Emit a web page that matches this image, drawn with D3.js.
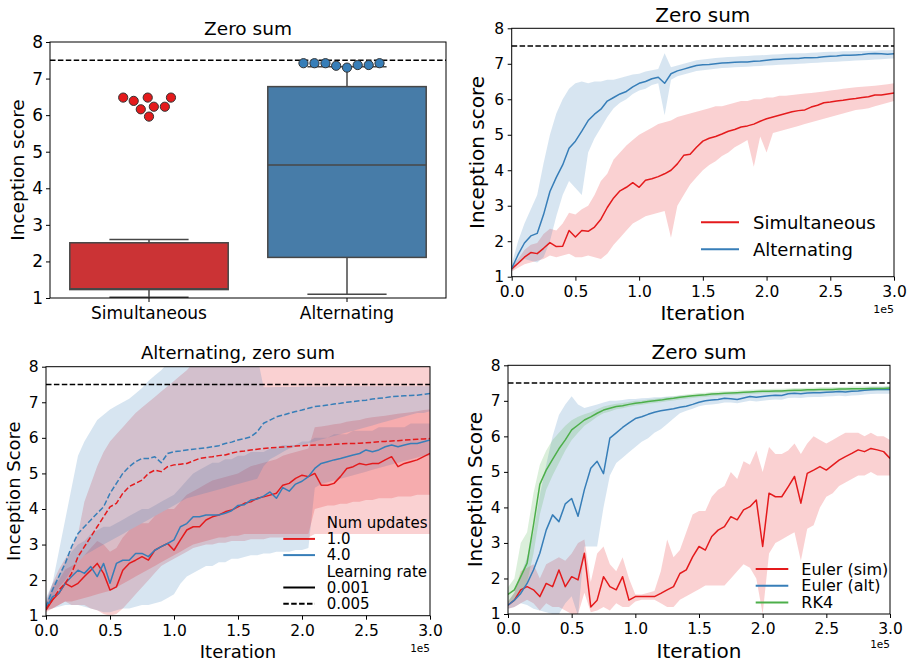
<!DOCTYPE html>
<html>
<head>
<meta charset="utf-8">
<script src="https://cdn.jsdelivr.net/npm/d3@7"></script>
<style>
body { margin: 0; background: #fff; }
svg text { font-family: "DejaVu Sans", sans-serif; fill: #000; }
</style>
</head>
<body>
<svg id="fig" width="908" height="661"></svg>
<script>
// ---- panel 1: box + swarm ----
const boxCats = ["Simultaneous", "Alternating"];
const boxLow = [1.02, 1.10];
const boxQ1 = [1.23, 2.11];
const boxMed = [1.25, 4.64];
const boxQ3 = [2.51, 6.78];
const boxHigh = [2.60, 7.32];
const swarmSim = [6.48, 6.39, 6.48, 6.16, 6.23, 6.23, 6.48, 5.96];
const swarmAlt = [7.42, 7.42, 7.35, 7.30, 7.37, 7.37, 7.42, 7.42];
const targetScore = 7.5;

// shared iteration grid, every 5000 iterations
const iters = d3.range(61).map(i => i * 5000);
const xTicks = [0, 0.5e5, 1e5, 1.5e5, 2e5, 2.5e5, 3e5];
const yTicks = [1, 2, 3, 4, 5, 6, 7, 8];

// ---- panel 2 ----
const p2SimMean = [1.22,1.38,1.55,1.68,1.65,1.80,1.96,1.85,1.86,2.30,2.12, 2.30,2.28,2.40,2.62,2.95,3.22,3.42,3.52,3.65,3.52, 3.72,3.76,3.82,3.90,4.00,4.18,4.42,4.45,4.65,4.82, 4.90,4.95,5.02,5.10,5.15,5.22,5.25,5.30,5.38,5.45, 5.50,5.55,5.60,5.65,5.68,5.70,5.78,5.83,5.90,5.92, 5.95,5.97,6.00,6.02,6.05,6.07,6.12,6.12,6.15,6.18];
const p2SimLo = [1.15,1.25,1.35,1.40,1.45,1.50,1.60,1.55,1.60,1.65,1.55, 1.55,1.60,1.55,1.50,1.65,1.90,2.10,2.30,2.50,2.60, 2.70,2.75,2.80,2.85,2.10,3.00,3.30,3.60,3.80,4.00, 4.15,4.25,4.40,4.50,4.65,4.75,4.85,4.10,4.95,4.50, 5.05,5.10,5.15,5.20,5.25,5.30,5.35,5.40,5.45,5.50, 5.55,5.60,5.65,5.70,5.72,5.75,5.80,5.85,5.90,5.95];
const p2SimHi = [1.30,1.50,1.75,1.90,1.95,2.20,2.35,2.30,2.50,2.80,2.75, 2.90,3.00,3.30,3.70,3.90,4.30,4.50,4.70,4.85,5.00, 5.10,5.20,5.30,5.35,5.40,5.50,5.55,5.60,5.65,5.70, 5.75,5.80,5.80,5.85,5.90,5.95,5.95,6.00,6.00,6.05, 6.05,6.10,6.10,6.12,6.14,6.16,6.18,6.20,6.22,6.25, 6.27,6.30,6.32,6.34,6.35,6.37,6.38,6.40,6.42,6.45];
const p2AltMean = [1.23,1.62,1.95,2.15,2.22,2.75,3.40,3.80,4.15,4.62,4.82, 5.10,5.40,5.58,5.72,5.95,6.05,6.15,6.22,6.35,6.45, 6.50,6.58,6.62,6.45,6.72,6.80,6.85,6.90,6.95,6.97, 6.98,7.00,7.02,7.03,7.04,7.05,7.05,7.07,7.08,7.10, 7.12,7.13,7.14,7.15,7.15,7.17,7.17,7.18,7.20,7.21, 7.22,7.24,7.24,7.25,7.26,7.28,7.29,7.28,7.27,7.28];
const p2AltLo = [1.15,1.35,1.50,1.45,1.40,1.55,2.00,2.70,3.30,3.70,3.50, 3.30,4.50,4.90,5.20,5.50,5.75,5.90,6.00,6.15,6.25, 6.30,6.40,6.45,5.55,6.55,6.65,6.70,6.75,6.80,6.82, 6.84,6.86,6.88,6.89,6.90,6.91,6.92,6.93,6.94,6.95, 6.96,6.97,6.98,6.99,7.00,7.01,7.02,7.03,7.04,7.05, 7.06,7.07,7.08,7.09,7.10,7.11,7.12,7.13,7.14,7.15];
const p2AltHi = [1.35,2.00,2.50,2.90,3.30,4.20,5.00,5.60,6.00,6.30,6.45, 6.50,6.45,6.50,6.50,6.55,6.55,6.60,6.65,6.70,6.72, 6.78,6.82,6.85,7.30,6.90,6.95,7.00,7.05,7.10,7.12, 7.14,7.16,7.18,7.19,7.20,7.21,7.22,7.23,7.24,7.25, 7.26,7.27,7.28,7.29,7.30,7.30,7.31,7.32,7.33,7.34, 7.34,7.35,7.35,7.36,7.36,7.37,7.37,7.38,7.38,7.39];

// ---- panel 3 ----
const p3RedSolid = [1.16,1.44,1.63,1.91,1.81,1.91,2.10,2.28,2.47,2.19,1.72, 1.81,2.28,2.47,2.56,2.66,2.56,2.84,2.94,3.03,2.84, 3.13,3.41,3.50,3.50,3.69,3.78,3.83,3.92,3.97,4.06, 4.16,4.20,4.30,4.34,4.39,4.44,4.67,4.72,4.86,4.95, 4.91,5.00,4.67,4.67,4.72,4.91,5.14,5.19,5.28,5.24, 5.28,5.28,5.38,5.47,5.19,5.28,5.33,5.38,5.47,5.56];
const p3BlueSolid = [1.20,1.53,1.63,1.91,2.10,2.28,2.19,2.38,2.10,2.47,1.91, 2.47,2.56,2.56,2.75,2.75,2.66,2.84,2.94,3.03,3.13, 3.50,3.59,3.78,3.78,3.83,3.83,3.83,3.88,3.95,4.10, 4.12,4.25,4.28,4.36,4.48,4.30,4.60,4.50,4.70,4.78, 4.91,5.14,5.28,5.33,5.38,5.42,5.47,5.52,5.56,5.66, 5.61,5.66,5.75,5.80,5.75,5.80,5.84,5.84,5.89,5.94];
const p3RedDash = [1.20,1.44,1.72,1.91,2.19,2.66,2.94,3.22,3.50,3.78,4.06, 4.16,4.44,4.63,4.72,4.81,5.00,5.09,5.05,5.19,5.24, 5.26,5.28,5.35,5.42,5.45,5.47,5.50,5.52,5.57,5.61, 5.63,5.66,5.68,5.70,5.72,5.73,5.74,5.75,5.77,5.78, 5.79,5.80,5.80,5.80,5.82,5.83,5.84,5.84,5.85,5.86, 5.87,5.89,5.90,5.91,5.92,5.94,5.95,5.96,5.97,5.98];
const p3BlueDash = [1.25,1.72,2.10,2.47,2.94,3.31,3.50,3.69,3.88,4.06,4.44, 4.72,5.00,5.19,5.33,5.42,5.42,5.47,5.30,5.56,5.61, 5.63,5.66,5.68,5.70,5.72,5.75,5.78,5.84,5.88,5.94, 5.98,6.03,6.17,6.41,6.50,6.59,6.64,6.69,6.74,6.78, 6.83,6.88,6.90,6.92,6.95,6.97,7.00,7.02,7.04,7.06, 7.09,7.11,7.13,7.16,7.17,7.18,7.19,7.20,7.22,7.25];
const p3RedSolidLo = [1.10,1.20,1.30,1.40,1.30,1.30,1.30,1.20,1.15,1.05,1.00, 1.05,1.20,1.40,1.60,1.80,2.00,2.20,2.40,2.50,2.60, 2.70,2.80,2.90,2.95,3.00,3.00,3.05,3.05,3.10,3.10, 3.10,3.15,3.15,3.15,3.20,3.20,3.20,3.20,3.20,3.20, 3.20,3.30,3.30,3.30,3.30,3.30,3.30,3.30,3.30,3.30, 3.30,3.30,3.30,3.30,3.30,3.30,3.30,3.30,3.30,3.30];
const p3RedSolidHi = [1.30,1.80,2.00,2.30,2.40,2.50,2.70,2.90,3.10,3.00,2.80, 2.90,3.20,3.40,3.50,3.60,3.60,3.80,3.90,4.00,4.00, 4.20,4.40,4.50,4.60,4.70,4.80,4.85,4.90,4.95,5.00, 5.10,5.20,5.25,5.30,5.35,5.40,5.50,5.55,5.60,5.65, 5.70,6.30,6.32,6.35,6.38,6.40,6.45,6.48,6.50,6.55, 6.58,6.60,6.62,6.65,6.68,6.70,6.72,6.75,6.78,6.80];
const p3BlueSolidLo = [1.15,1.20,1.25,1.30,1.30,1.30,1.25,1.20,1.15,1.10,1.10, 1.15,1.20,1.20,1.25,1.30,1.30,1.35,1.40,1.50,1.60, 1.90,2.10,2.20,2.30,2.40,2.40,2.50,2.50,2.60,2.60, 2.65,2.70,2.70,2.75,2.75,2.80,2.80,2.80,2.85,2.85, 2.90,4.60,4.70,4.75,4.80,4.85,4.90,4.95,5.00,5.05, 5.10,5.15,5.20,5.25,5.30,5.35,5.40,5.45,5.50,5.50];
const p3BlueSolidHi = [1.35,1.90,2.10,2.50,2.80,3.00,3.10,3.30,3.40,3.50,3.50, 3.60,3.70,3.80,3.90,4.00,4.00,4.10,4.20,4.30,4.40, 4.60,4.80,5.00,5.10,5.20,5.30,5.30,5.40,5.40,5.50, 5.50,5.60,5.60,5.60,5.70,5.70,5.80,5.80,5.80,5.90, 5.90,6.00,6.00,6.00,6.10,6.10,6.10,6.20,6.20,6.20, 6.20,6.30,6.30,6.30,6.30,6.30,6.40,6.40,6.40,6.40];
const p3RedDashLo = [1.15,1.20,1.30,1.40,1.40,1.45,1.50,1.55,1.60,1.65,1.70, 1.80,1.90,2.00,2.10,2.20,2.30,2.40,2.50,2.60,2.70, 2.80,2.90,3.00,3.05,3.10,3.15,3.20,3.20,3.25,3.25, 3.30,3.30,3.30,3.30,3.30,3.30,3.30,3.30,3.30,3.30, 3.30,4.00,4.05,4.10,4.10,4.15,4.15,4.20,4.20,4.25, 4.25,4.30,4.30,4.30,4.35,4.35,4.35,4.40,4.40,4.40];
const p3RedDashHi = [1.40,1.90,2.30,2.60,2.90,3.30,4.20,4.70,5.20,5.60,5.90, 6.10,6.30,6.50,6.70,6.85,7.00,7.15,7.30,7.45,7.60, 7.75,7.90,8.10,8.30,8.30,8.30,8.30,8.30,8.30,8.30, 8.30,8.30,8.30,8.30,8.30,8.30,8.30,8.30,8.30,8.30, 8.30,8.30,8.30,8.30,8.30,8.30,8.30,8.30,8.30,8.30, 8.30,8.30,8.30,8.30,8.30,8.30,8.30,8.30,8.30,8.30];
const p3BlueDashLo = [1.30,1.50,1.80,2.00,2.30,2.50,2.70,2.80,2.90,3.00,3.10, 3.20,3.30,3.40,3.50,3.60,3.70,3.80,3.90,4.00,4.10, 4.20,4.30,4.35,4.40,4.45,4.50,4.55,4.60,4.65,4.70, 4.75,4.80,4.85,5.20,5.40,5.50,5.60,5.70,5.75,5.80, 5.85,5.90,5.95,6.00,6.05,6.10,6.15,6.20,6.25,6.30, 6.35,6.40,6.45,6.50,6.55,6.60,6.65,6.70,6.70,6.75];
const p3BlueDashHi = [1.50,1.90,2.80,3.70,4.60,5.50,5.90,6.20,6.50,6.65,6.80, 6.90,7.00,7.10,7.25,7.40,7.60,7.75,7.90,8.10,8.30, 8.30,8.30,8.30,8.30,8.30,8.30,8.30,8.30,8.30,8.30, 8.30,8.30,8.30,7.42,7.42,7.43,7.43,7.43,7.43,7.44, 7.44,7.44,7.44,7.44,7.45,7.45,7.45,7.45,7.45,7.45, 7.45,7.45,7.45,7.45,7.45,7.45,7.45,7.45,7.45,7.45];

// ---- panel 4 ----
const p4SimMean = [1.25,1.39,1.68,1.77,1.68,1.49,1.86,1.77,2.24,1.77,2.05, 1.96,2.71,1.20,1.39,2.05,1.77,1.68,2.05,1.39,1.49, 1.49,1.49,1.49,1.58,1.68,1.77,2.14,2.24,2.61,2.90, 2.80,3.18,3.36,3.46,3.74,3.65,3.93,4.02,4.21,2.90, 4.40,4.30,4.30,4.58,4.87,4.12,4.96,5.05,5.15,5.05, 5.19,5.33,5.43,5.52,5.62,5.57,5.66,5.62,5.57,5.38];
const p4SimLo = [1.15,1.20,1.30,1.40,1.30,1.10,1.30,1.20,1.20,1.10,1.00, 1.00,1.60,1.05,1.10,1.20,1.10,1.30,1.20,1.20,1.35, 1.40,1.40,1.40,1.30,1.20,1.20,1.40,1.50,1.60,1.70, 1.80,1.80,1.80,1.80,2.00,2.20,2.40,2.30,2.00,1.00, 2.70,3.00,3.10,3.20,3.30,2.50,3.40,3.50,4.00,4.30, 4.40,4.60,4.70,4.80,4.90,4.90,5.00,4.90,4.90,4.90];
const p4SimHi = [1.35,1.60,2.20,2.30,2.40,2.00,2.40,2.50,2.60,2.50,2.70, 3.00,3.10,1.90,2.70,2.90,2.40,2.20,2.60,2.00,1.55, 1.55,1.60,1.65,2.20,3.10,2.60,2.80,3.30,3.80,3.90, 3.90,4.30,4.50,4.60,5.00,4.80,5.30,5.20,5.60,5.00, 5.70,5.50,5.50,5.60,5.80,5.50,5.80,6.00,5.90,5.80, 5.90,6.00,6.10,6.10,6.10,6.00,6.10,6.00,6.00,5.90];
const p4AltMean = [1.25,1.39,1.58,1.86,2.24,2.71,3.36,3.79,3.60,4.10,4.25, 3.75,4.50,5.10,5.30,4.95,5.95,6.10,6.25,6.38,6.50, 6.55,6.62,6.68,6.72,6.75,6.78,6.82,6.85,6.90,6.96, 7.00,7.02,7.04,7.07,7.06,7.04,7.08,7.12,7.10,7.12, 7.14,7.16,7.15,7.20,7.21,7.20,7.22,7.23,7.23,7.24, 7.25,7.26,7.25,7.27,7.28,7.30,7.31,7.32,7.32,7.32];
const p4AltLo = [1.15,1.20,1.30,1.25,1.15,1.10,1.05,1.00,1.00,1.30,1.50, 0.95,2.90,2.90,2.90,4.00,4.90,5.25,5.40,5.55,5.70, 5.85,5.95,6.10,6.20,6.35,6.50,6.65,6.72,6.78,6.85, 6.88,6.90,6.92,6.95,6.95,6.93,6.97,7.00,6.98,7.00, 7.02,7.04,7.03,7.08,7.09,7.08,7.10,7.11,7.11,7.12, 7.13,7.14,7.13,7.15,7.16,7.18,7.19,7.20,7.20,7.20];
const p4AltHi = [1.35,1.60,2.10,2.60,3.30,4.35,5.20,6.00,6.60,6.90,7.13, 6.90,6.80,6.85,6.90,6.95,7.00,7.00,7.02,7.05,7.05, 7.07,7.08,7.10,7.10,7.12,7.12,7.14,7.15,7.16,7.18, 7.19,7.20,7.21,7.22,7.22,7.23,7.24,7.25,7.26,7.27, 7.28,7.29,7.30,7.30,7.31,7.31,7.32,7.32,7.33,7.33, 7.34,7.34,7.35,7.35,7.36,7.37,7.38,7.39,7.39,7.40];
const p4RkMean = [1.55,1.68,2.05,2.43,3.50,4.65,5.05,5.35,5.65,5.90,6.18, 6.32,6.46,6.55,6.65,6.74,6.79,6.84,6.86,6.90,6.93, 6.95,6.98,7.00,7.02,7.05,7.07,7.10,7.12,7.14,7.16, 7.17,7.19,7.20,7.21,7.22,7.23,7.24,7.25,7.26,7.27, 7.27,7.28,7.28,7.29,7.30,7.30,7.31,7.31,7.32,7.32, 7.32,7.33,7.33,7.34,7.34,7.34,7.35,7.35,7.35,7.36];
const p4RkLo = [1.30,1.40,1.60,1.90,2.70,3.80,4.50,4.90,5.25,5.60,5.90, 6.10,6.30,6.42,6.55,6.65,6.70,6.76,6.79,6.83,6.87, 6.89,6.92,6.94,6.96,6.99,7.01,7.04,7.06,7.08,7.10, 7.11,7.13,7.14,7.15,7.16,7.17,7.18,7.19,7.20,7.21, 7.21,7.22,7.22,7.23,7.24,7.24,7.25,7.25,7.26,7.26, 7.26,7.27,7.27,7.28,7.28,7.28,7.29,7.29,7.29,7.30];
const p4RkHi = [1.75,2.00,3.00,3.30,4.40,5.20,5.60,5.90,6.10,6.30,6.45, 6.55,6.62,6.68,6.76,6.84,6.88,6.92,6.94,6.97,7.00, 7.01,7.04,7.06,7.08,7.11,7.13,7.16,7.18,7.20,7.22, 7.23,7.25,7.26,7.27,7.28,7.29,7.30,7.31,7.32,7.33, 7.33,7.34,7.34,7.35,7.36,7.36,7.37,7.37,7.38,7.38, 7.38,7.39,7.39,7.40,7.40,7.40,7.41,7.41,7.41,7.42];

const RED = "#e41a1c", BLUE = "#377eb8", GREEN = "#4daf4a";

const svg = d3.select("#fig");
let clipCount = 0;

function addText(x, y, str, size, anchor, rotate) {
    const t = svg.append("text").attr("font-size", size).attr("text-anchor", anchor || "middle").text(str);
    if (rotate) t.attr("transform", `translate(${x},${y}) rotate(-90)`);
    else t.attr("x", x).attr("y", y);
    return t;
}

function styleAxis(g, size) {
    g.selectAll("text").attr("font-size", size).attr("font-family", "DejaVu Sans").attr("fill", "#000");
    g.selectAll("line").attr("stroke", "#000");
    g.select(".domain").remove();
}

function frameBox(p) {
    svg.append("rect").attr("x", p.l).attr("y", p.t).attr("width", p.r - p.l).attr("height", p.b - p.t)
        .attr("fill", "none").attr("stroke", "#000").attr("stroke-width", 1);
}

function dashedTarget(p, y) {
    svg.append("line").attr("x1", p.l).attr("x2", p.r).attr("y1", y(targetScore)).attr("y2", y(targetScore))
        .attr("stroke", "#000").attr("stroke-width", 1.5).attr("stroke-dasharray", "5.5,2.4");
}

// curve panels
function curvePanel(p) {
    const x = d3.scaleLinear().domain([0, 3e5]).range([p.l, p.r]);
    const y = d3.scaleLinear().domain([1, 8]).range([p.b, p.t]);
    const id = "clip" + (clipCount++);
    svg.append("clipPath").attr("id", id).append("rect")
        .attr("x", p.l).attr("y", p.t).attr("width", p.r - p.l).attr("height", p.b - p.t);
    const plot = svg.append("g").attr("clip-path", `url(#${id})`);

    const area = (lo, hi) => d3.area().x((d, i) => x(iters[i])).y0((d, i) => y(lo[i])).y1((d, i) => y(hi[i]))(iters);
    const line = vals => d3.line().x((d, i) => x(iters[i])).y(d => y(d))(vals);

    p.bands.forEach(b => {
        plot.append("path").attr("d", area(b.lo, b.hi)).attr("fill", b.color).attr("fill-opacity", 0.2);
    });
    dashedTarget(p, y);
    p.lines.forEach(s => {
        plot.append("path").attr("d", line(s.vals)).attr("fill", "none").attr("stroke", s.color)
            .attr("stroke-width", 1.5).attr("stroke-linejoin", "round")
            .attr("stroke-dasharray", s.dash ? "5.5,2.4" : null);
    });
    frameBox(p);

    const ax = svg.append("g").attr("transform", `translate(0,${p.b})`)
        .call(d3.axisBottom(x).tickValues(xTicks).tickSize(4).tickPadding(p.xPad)
            .tickFormat(d => (d / 1e5).toFixed(1)));
    styleAxis(ax, p.tick);
    const ay = svg.append("g").attr("transform", `translate(${p.l},0)`)
        .call(d3.axisLeft(y).tickValues(yTicks).tickSize(4).tickPadding(3.5).tickFormat(d3.format("d")));
    styleAxis(ay, p.tick);

    addText((p.l + p.r) / 2, p.titleY, p.title, p.big);
    addText((p.l + p.r) / 2, p.xLabY, "Iteration", p.big);
    addText(p.r, p.expY, "1e5", p.expSize, "end");
    addText(p.yLabX, (p.t + p.b) / 2, p.ylabel, p.big, "middle", true);
    return { x, y };
}

// ---- panel 1 ----
(function () {
    const p = { l: 50, r: 446, t: 42, b: 298 };
    const y = d3.scaleLinear().domain([1, 8]).range([p.b, p.t]);
    const x = d3.scaleBand().domain(boxCats).range([p.l, p.r]).paddingInner(0.2).paddingOuter(0.1);
    const fills = ["#cb3335", "#477ca8"];
    const dots = [RED, BLUE];
    const edge = "#474747";
    const bw = x.bandwidth();

    dashedTarget(p, y);
    boxCats.forEach((c, i) => {
        const cx = x(c) + bw / 2;
        const g = svg.append("g").attr("stroke", edge).attr("stroke-width", 1.5);
        g.append("line").attr("x1", cx).attr("x2", cx).attr("y1", y(boxLow[i])).attr("y2", y(boxQ1[i]));
        g.append("line").attr("x1", cx).attr("x2", cx).attr("y1", y(boxQ3[i])).attr("y2", y(boxHigh[i]));
        g.append("line").attr("x1", cx - bw / 4).attr("x2", cx + bw / 4).attr("y1", y(boxLow[i])).attr("y2", y(boxLow[i]));
        g.append("line").attr("x1", cx - bw / 4).attr("x2", cx + bw / 4).attr("y1", y(boxHigh[i])).attr("y2", y(boxHigh[i]));
        g.append("rect").attr("x", x(c)).attr("width", bw).attr("y", y(boxQ3[i]))
            .attr("height", y(boxQ1[i]) - y(boxQ3[i])).attr("fill", fills[i]);
        g.append("line").attr("x1", x(c)).attr("x2", x(c) + bw).attr("y1", y(boxMed[i])).attr("y2", y(boxMed[i]));
    });

    // simple beeswarm: place points by value, nearest free slot to the centre
    function swarm(values, cx, d) {
        const order = values.map((v, i) => i).sort((a, b) => values[a] - values[b]);
        const placed = [];
        order.forEach(i => {
            const py = y(values[i]);
            const cands = [0];
            placed.forEach(q => {
                const dy = Math.abs(q.y - py);
                if (dy < d) {
                    const dx = Math.sqrt(d * d - dy * dy);
                    cands.push(q.dx - dx, q.dx + dx);
                }
            });
            cands.sort((a, b) => Math.abs(a) - Math.abs(b) || a - b);
            const ok = cands.find(c => placed.every(q => (q.dx - c) ** 2 + (q.y - py) ** 2 >= d * d - 0.01));
            placed.push({ dx: ok, y: py });
        });
        return placed.map(q => ({ x: cx + q.dx, y: q.y }));
    }
    [swarmSim, swarmAlt].forEach((vals, i) => {
        const cx = x(boxCats[i]) + bw / 2;
        svg.append("g").selectAll("circle").data(swarm(vals, cx, 11)).join("circle")
            .attr("cx", d => d.x).attr("cy", d => d.y).attr("r", 4.6)
            .attr("fill", dots[i]).attr("stroke", "#333").attr("stroke-width", 1);
    });

    frameBox(p);
    const ax = svg.append("g").attr("transform", `translate(0,${p.b})`)
        .call(d3.axisBottom(x).tickSize(4).tickPadding(5));
    styleAxis(ax, 17);
    const ay = svg.append("g").attr("transform", `translate(${p.l},0)`)
        .call(d3.axisLeft(y).tickValues(yTicks).tickSize(4).tickPadding(3).tickFormat(d3.format("d")));
    styleAxis(ay, 17);
    addText(248, 35, "Zero sum", 18.5);
    addText(24, 170, "Inception score", 18.5, "middle", true);
})();

// ---- panel 2 ----
curvePanel({
    l: 511.7, r: 894, t: 28.3, b: 276.7, tick: 15.5, big: 20, xPad: 5,
    title: "Zero sum", titleY: 21.7, xLabY: 319.5, expY: 313, expSize: 11,
    ylabel: "Inception score", yLabX: 484,
    bands: [
        { lo: p2SimLo, hi: p2SimHi, color: RED },
        { lo: p2AltLo, hi: p2AltHi, color: BLUE }
    ],
    lines: [
        { vals: p2SimMean, color: RED },
        { vals: p2AltMean, color: BLUE }
    ]
});

// ---- panel 3 ----
curvePanel({
    l: 46, r: 430, t: 366.7, b: 615.7, tick: 15.5, big: 18, xPad: 5.3,
    title: "Alternating, zero sum", titleY: 359, xLabY: 658, expY: 651.5, expSize: 10.5,
    ylabel: "Inception Score", yLabX: 19.5,
    bands: [
        { lo: p3RedSolidLo, hi: p3RedSolidHi, color: RED },
        { lo: p3BlueSolidLo, hi: p3BlueSolidHi, color: BLUE },
        { lo: p3RedDashLo, hi: p3RedDashHi, color: RED },
        { lo: p3BlueDashLo, hi: p3BlueDashHi, color: BLUE }
    ],
    lines: [
        { vals: p3RedSolid, color: RED },
        { vals: p3BlueSolid, color: BLUE },
        { vals: p3RedDash, color: RED, dash: true },
        { vals: p3BlueDash, color: BLUE, dash: true }
    ]
});

// ---- panel 4 ----
curvePanel({
    l: 508, r: 890, t: 365.3, b: 614, tick: 15.5, big: 20, xPad: 5,
    title: "Zero sum", titleY: 359.3, xLabY: 658, expY: 648, expSize: 10.5,
    ylabel: "Inception Score", yLabX: 481.5,
    bands: [
        { lo: p4SimLo, hi: p4SimHi, color: RED },
        { lo: p4AltLo, hi: p4AltHi, color: BLUE },
        { lo: p4RkLo, hi: p4RkHi, color: GREEN }
    ],
    lines: [
        { vals: p4SimMean, color: RED },
        { vals: p4AltMean, color: BLUE },
        { vals: p4RkMean, color: GREEN }
    ]
});

// ---- legends ----
function legend(x1, x2, tx, rows, size) {
    rows.forEach(r => {
        if (r.color) {
            svg.append("line").attr("x1", x1).attr("x2", x2).attr("y1", r.y).attr("y2", r.y)
                .attr("stroke", r.color).attr("stroke-width", 2)
                .attr("stroke-dasharray", r.dash ? "5.5,2.4" : null);
        }
        addText(tx, r.y, r.label, size, "start").attr("dy", "0.35em");
    });
}
legend(701, 739, 753, [
    { label: "Simultaneous", color: RED, y: 222.3 },
    { label: "Alternating", color: BLUE, y: 249.3 }
], 18);
legend(283.3, 315, 326.7, [
    { label: "Num updates", y: 522.7 },
    { label: "1.0", color: RED, y: 538.9 },
    { label: "4.0", color: BLUE, y: 555.1 },
    { label: "Learning rate", y: 571.3 },
    { label: "0.001", color: "#000", y: 587.5 },
    { label: "0.005", color: "#000", dash: true, y: 603.7 }
], 15);
legend(755.7, 788.3, 801.3, [
    { label: "Euler (sim)", color: RED, y: 569 },
    { label: "Euler (alt)", color: BLUE, y: 585.8 },
    { label: "RK4", color: GREEN, y: 602.6 }
], 16);
</script>
</body>
</html>
